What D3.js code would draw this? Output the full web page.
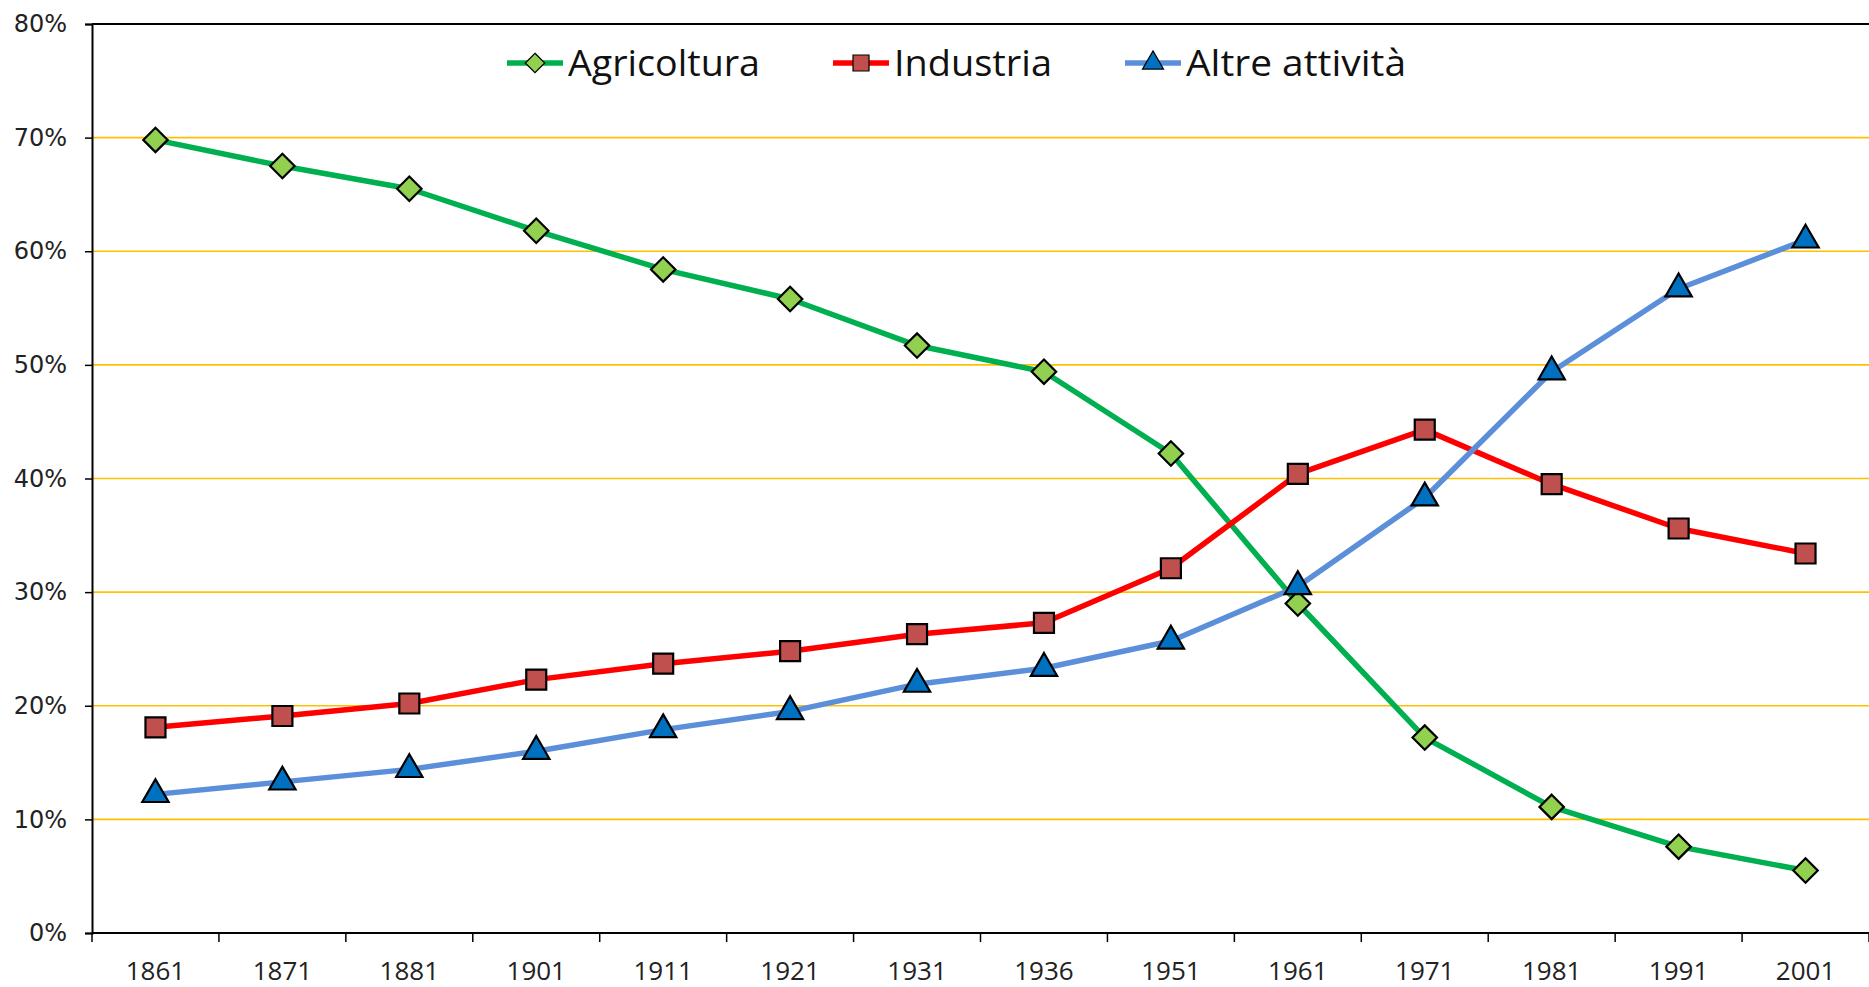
<!DOCTYPE html>
<html>
<head>
<meta charset="utf-8">
<script src="https://cdn.jsdelivr.net/npm/d3@7"></script>
<style>
  html, body { margin: 0; padding: 0; background: #fff; }
  svg { display: block; }
</style>
</head>
<body>
<script>
// data (percent)
var years = ["1861", "1871", "1881", "1901", "1911", "1921", "1931", "1936", "1951", "1961", "1971", "1981", "1991", "2001"];
var agricoltura = [69.8, 67.5, 65.5, 61.8, 58.4, 55.8, 51.7, 49.4, 42.2, 29.0, 17.2, 11.1, 7.6, 5.5];
var industria = [18.1, 19.1, 20.2, 22.3, 23.7, 24.8, 26.3, 27.3, 32.1, 40.4, 44.3, 39.5, 35.6, 33.4];
var altre = [12.2, 13.3, 14.4, 16.0, 17.9, 19.5, 21.9, 23.3, 25.7, 30.5, 38.3, 49.4, 56.7, 61.0];
var yTicks = [0, 10, 20, 30, 40, 50, 60, 70, 80];

var series = [
    {name: "Agricoltura", values: agricoltura, line: "#00B050", fill: "#92D050", shape: "diamond"},
    {name: "Industria", values: industria, line: "#FF0000", fill: "#C0504D", shape: "square"},
    {name: "Altre attività", values: altre, line: "#5B8FDA", fill: "#0070C0", shape: "triangle"}
];

var W = 1869, H = 987;
var plotLeft = 92, plotRight = 1869, plotTop = 24, plotBottom = 933;

var svg = d3.select("body").append("svg")
    .attr("width", W)
    .attr("height", H);

var x = d3.scaleBand()
    .domain(years)
    .range([plotLeft, plotRight]);

var y = d3.scaleLinear()
    .domain([0, 80])
    .range([plotBottom, plotTop]);

// gridlines
svg.append("g")
    .attr("class", "gridlines")
    .selectAll("line")
    .data(yTicks.filter(function (d) { return d > 0 && d < 80; }))
    .enter().append("line")
    .attr("x1", plotLeft)
    .attr("x2", plotRight)
    .attr("y1", function (d) { return y(d); })
    .attr("y2", function (d) { return y(d); })
    .attr("stroke", "#FFC000")
    .attr("stroke-width", 1.6);

// top frame
svg.append("line")
    .attr("x1", plotLeft).attr("x2", plotRight)
    .attr("y1", y(80)).attr("y2", y(80))
    .attr("stroke", "#000").attr("stroke-width", 2);

// y axis
var yAxis = d3.axisLeft(y)
    .tickValues(yTicks)
    .tickSize(7)
    .tickPadding(18)
    .tickFormat(function (d) { return d + "%"; });

var gy = svg.append("g")
    .attr("transform", "translate(" + plotLeft + ",0)")
    .call(yAxis)
    .attr("font-family", "DejaVu Sans, Verdana, sans-serif")
    .attr("font-size", 24);
gy.select(".domain").attr("stroke", "#000").attr("stroke-width", 2);
gy.selectAll(".tick line").attr("stroke", "#000").attr("stroke-width", 1.5);
gy.selectAll(".tick text")
    .style("font-size", "24px")
    .attr("fill", "#222");

// x axis: labels centered in bands, ticks between bands
var gx = svg.append("g")
    .attr("transform", "translate(0," + plotBottom + ")");
gx.append("line")
    .attr("x1", plotLeft).attr("x2", plotRight)
    .attr("stroke", "#000").attr("stroke-width", 2);
gx.selectAll(".xtick")
    .data(years.concat(["end"]))
    .enter().append("line")
    .attr("class", "xtick")
    .attr("x1", function (d, i) { return plotLeft + i * x.step(); })
    .attr("x2", function (d, i) { return plotLeft + i * x.step(); })
    .attr("y1", 0)
    .attr("y2", 9)
    .attr("stroke", "#000")
    .attr("stroke-width", 1.5);
gx.selectAll(".xlabel")
    .data(years)
    .enter().append("text")
    .attr("class", "xlabel")
    .attr("x", function (d) { return x(d) + x.bandwidth() / 2; })
    .attr("y", 47)
    .attr("text-anchor", "middle")
    .attr("font-family", "Open Sans, sans-serif")
    .attr("font-size", 26)
    .attr("fill", "#222")
    .text(function (d) { return d; });

function cx(i) {
    return x(years[i]) + x.bandwidth() / 2;
}

function markerPath(shape) {
    if (shape === "diamond") return d3.symbol().type(d3.symbolDiamond2).size(380)();
    if (shape === "square") return d3.symbol().type(d3.symbolSquare).size(400)();
    return d3.symbol().type(d3.symbolTriangle).size(300)();
}

var line = d3.line()
    .x(function (d, i) { return cx(i); })
    .y(function (d) { return y(d); });

// lines first, then markers on top
series.forEach(function (s) {
    svg.append("path")
        .datum(s.values)
        .attr("d", line)
        .attr("fill", "none")
        .attr("stroke", s.line)
        .attr("stroke-width", 5.5)
        .attr("stroke-linejoin", "round");
});

series.forEach(function (s) {
    svg.append("g")
        .selectAll("path")
        .data(s.values)
        .enter().append("path")
        .attr("d", markerPath(s.shape))
        .attr("transform", function (d, i) {
            return "translate(" + cx(i) + "," + y(d) + ")";
        })
        .attr("fill", s.fill)
        .attr("stroke", "#000")
        .attr("stroke-width", 2.2);
});

// legend
var legendPos = [535, 861, 1153];
var legendWidth = [192, 158, 220];
var legend = svg.append("g").attr("class", "legend");
series.forEach(function (s, i) {
    var g = legend.append("g")
        .attr("transform", "translate(" + legendPos[i] + ",63)");
    g.append("line")
        .attr("x1", -28).attr("x2", 28)
        .attr("stroke", s.line)
        .attr("stroke-width", 5.5);
    g.append("path")
        .attr("d", markerPath(s.shape))
        .attr("transform", "scale(0.8)")
        .attr("fill", s.fill)
        .attr("stroke", "#000")
        .attr("stroke-width", 1.5);
    g.append("text")
        .attr("x", 33)
        .attr("y", 13)
        .attr("font-family", "Open Sans, sans-serif")
        .attr("font-size", 36)
        .attr("textLength", legendWidth[i])
        .attr("lengthAdjust", "spacingAndGlyphs")
        .attr("fill", "#111")
        .text(s.name);
});
</script>
</body>
</html>
